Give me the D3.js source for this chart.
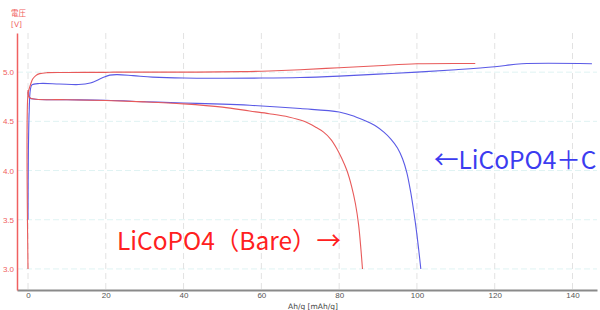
<!DOCTYPE html>
<html>
<head>
<meta charset="utf-8">
<script src="https://cdn.jsdelivr.net/npm/d3@7"></script>
<style>
  body { margin: 0; background: #fff; }
  svg { display: block; font-family: "DejaVu Sans", sans-serif; }
</style>
</head>
<body>
<svg id="chart" width="600" height="310"></svg>
<script>
// capacity [mAh/g], voltage [V]
const bareCharge = [
    [0, 3.0], [0, 4.78], [0.3, 4.83], [0.7, 4.88], [1.2, 4.93], [2, 4.965], [3, 4.985], [5, 4.995],
    [10, 4.997], [20, 4.998], [22, 5.0], [40, 5.0], [55, 5.005], [62, 5.012], [70, 5.025],
    [80, 5.045], [90, 5.065], [100, 5.085], [115, 5.088]
];
const bareDischarge = [
    [0, 4.82], [0.4, 4.74], [2, 4.725], [10, 4.72], [20, 4.712], [30, 4.698], [40, 4.678],
    [50, 4.645], [57, 4.605], [62, 4.578], [67, 4.545], [71, 4.5], [74, 4.44], [76, 4.39],
    [77.8, 4.32], [79.3, 4.23], [80.6, 4.13], [82, 4.0], [83.2, 3.84], [84.2, 3.66],
    [85, 3.45], [85.6, 3.2], [86, 3.0]
];
const carbonCharge = [
    [0, 3.5], [0.1, 4.2], [0.3, 4.6], [0.6, 4.82], [1, 4.87], [3, 4.885], [8, 4.88], [13, 4.874],
    [16, 4.89], [19, 4.94], [21, 4.97], [23, 4.975], [27, 4.965], [32, 4.95], [40, 4.94],
    [60, 4.94], [70, 4.945], [80, 4.96], [90, 4.98], [100, 5.0], [110, 5.025], [120, 5.055],
    [127, 5.085], [145, 5.085]
];
const carbonDischarge = [
    [0, 4.8], [0.4, 4.74], [2, 4.725], [10, 4.72], [20, 4.714], [30, 4.7], [40, 4.686],
    [50, 4.675], [57, 4.663], [70, 4.63], [80, 4.595], [84, 4.55], [87, 4.5], [89.5, 4.45],
    [91.5, 4.39], [93.3, 4.32], [95, 4.23], [96.3, 4.12], [97.4, 3.98], [98.4, 3.78],
    [99.2, 3.58], [99.9, 3.38], [100.5, 3.18], [101, 3.0]
];
const xTicks = [0, 20, 40, 60, 80, 100, 120, 140];
const yTicks = [3.0, 3.5, 4.0, 4.5, 5.0];

const svg = d3.select("#chart");
const plotLeft = 17, plotRight = 597, plotTop = 33, plotBottom = 290;

const x = d3.scaleLinear().domain([-2.83, 146.3]).range([plotLeft, plotRight]);
const y = d3.scaleLinear().domain([2.786, 5.398]).range([plotBottom, plotTop]);

// grid
svg.append("g").selectAll("line")
    .data(yTicks)
    .join("line")
    .attr("x1", plotLeft).attr("x2", plotRight)
    .attr("y1", d => y(d)).attr("y2", d => y(d))
    .attr("stroke", "#dff3f3")
    .attr("stroke-dasharray", "6,3");

svg.append("g").selectAll("line")
    .data(xTicks)
    .join("line")
    .attr("x1", d => x(d)).attr("x2", d => x(d))
    .attr("y1", plotTop).attr("y2", plotBottom)
    .attr("stroke", "#e2e2e2")
    .attr("stroke-dasharray", "6,4");

// x axis
const xAxis = svg.append("g")
    .attr("transform", `translate(0,${plotBottom})`)
    .call(d3.axisBottom(x).tickValues(xTicks).tickSize(0).tickPadding(2));
xAxis.select(".domain").attr("stroke", "#8a8a8a").attr("stroke-width", 2);
xAxis.selectAll("text").attr("fill", "#555").attr("font-size", 8);

// y axis
const yAxis = svg.append("g")
    .attr("transform", `translate(${plotLeft},0)`)
    .call(d3.axisLeft(y).tickValues(yTicks).tickFormat(d3.format(".1f")).tickSize(0).tickPadding(3));
yAxis.select(".domain").attr("stroke", "#f06060").attr("stroke-width", 1.5);
yAxis.selectAll("text").attr("fill", "#f06060").attr("font-size", 8);

svg.append("text")
    .attr("x", 11).attr("y", 16)
    .attr("font-size", 7.5).attr("fill", "#f06060")
    .attr("font-family", "Noto Sans CJK JP")
    .text("電圧");
svg.append("text")
    .attr("x", 11).attr("y", 27)
    .attr("font-size", 7.5).attr("fill", "#f06060")
    .text("[V]");
svg.append("text")
    .attr("x", 288).attr("y", 309)
    .attr("font-size", 7.5).attr("fill", "#444")
    .text("Ah/g [mAh/g]");

// curves
const line = d3.line()
    .x(d => x(d[0]))
    .y(d => y(d[1]))
    .curve(d3.curveCatmullRom.alpha(0.5));

const series = [
    {data: carbonCharge, color: "#5a5ae6"},
    {data: carbonDischarge, color: "#5a5ae6"},
    {data: bareCharge, color: "#e85a5a"},
    {data: bareDischarge, color: "#e85a5a"}
];
svg.append("g").selectAll("path")
    .data(series)
    .join("path")
    .attr("d", d => line(d.data))
    .attr("fill", "none")
    .attr("stroke", d => d.color)
    .attr("stroke-width", 1.1);

// labels
svg.append("text")
    .attr("x", 117).attr("y", 250)
    .attr("font-family", "Noto Sans CJK JP")
    .attr("font-size", 24.5).attr("fill", "#ff2020")
    .text("LiCoPO4（Bare）→");
svg.append("text")
    .attr("x", 434).attr("y", 169)
    .attr("font-family", "Noto Sans CJK JP")
    .attr("font-size", 24.5).attr("fill", "#3c3cf0")
    .text("←LiCoPO4＋C");
</script>
</body>
</html>
